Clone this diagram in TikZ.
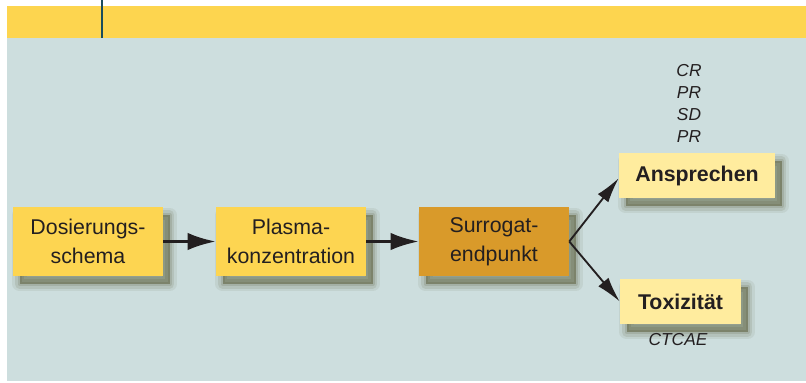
\documentclass[tikz,border=0pt]{standalone}
\usepackage{fontspec}
\setmainfont{Liberation Sans}
\usetikzlibrary{arrows.meta,shadows}

\definecolor{bandyellow}{HTML}{FDD54F}
\definecolor{panelgray}{HTML}{CDDEDE}
\definecolor{boxyellow}{HTML}{FDD551}
\definecolor{boxlight}{HTML}{FFEC9E}
\definecolor{boxdark}{HTML}{D99A2A}
\definecolor{tabline}{HTML}{1A4D5C}
\definecolor{shadowcol}{HTML}{3E3E12}
\definecolor{ink}{HTML}{231F20}

\begin{document}
\begin{tikzpicture}[x=0.75pt,y=-0.75pt,
  every node/.style={text=ink},
  soft shadow/.style={
    general shadow={fill=shadowcol,draw=shadowcol,line width=11pt,line join=round,opacity=0.07,shadow xshift=5pt,shadow yshift=-6pt},
    general shadow={fill=shadowcol,draw=shadowcol,line width=7pt,line join=round,opacity=0.1,shadow xshift=5pt,shadow yshift=-6pt},
    general shadow={fill=shadowcol,draw=shadowcol,line width=3pt,line join=round,opacity=0.13,shadow xshift=5pt,shadow yshift=-6pt},
    general shadow={fill=shadowcol,opacity=0.15,shadow xshift=5pt,shadow yshift=-6pt}},
  stage/.style={rectangle,fill=boxyellow,minimum width=112.5pt,minimum height=51.75pt,
    align=center,font=\fontsize{16}{21.75}\selectfont,soft shadow},
  result/.style={rectangle,fill=boxlight,minimum height=33.75pt,
    font=\fontsize{16}{19}\selectfont\bfseries,soft shadow},
  crit/.style={font=\fontsize{13}{16.5}\selectfont\itshape,inner sep=0pt},
  flow/.style={-{Latex[length=21pt,width=13pt]},line width=2.2pt,ink},
  branch/.style={-{Latex[length=19pt,width=10pt]},line width=1.4pt,ink}]
\useasboundingbox (0,0) rectangle (806,382);
% background
\fill[bandyellow] (7,6) rectangle (806,38);
\fill[panelgray] (7,38) rectangle (806,381);
\draw[tabline,line width=1.5pt] (102,0) -- (102,38);

\node[stage] (dosis) at (88,241.5) {Dosierungs-\\schema};
\node[stage] (plasma) at (291,241.5) {Plasma-\\konzentration};
\node[stage,fill=boxdark] (surrogat) at (494,241.5) {Surrogat-\\endpunkt};
\node[result,minimum width=117pt] (ansprechen) at (697,175.5) {Ansprechen};
\node[result,minimum width=90.75pt] (toxizitaet) at (680.5,301.5) {Toxizität};

\node[crit] (cr) at (689,71) {CR};
\node[crit] (pr) at (689,93) {PR};
\node[crit] (sd) at (689,115) {SD};
\node[crit] (pd) at (689,137) {PR};
\node[crit] (ctcae) at (678,340) {CTCAE};

\draw[flow] (dosis) -- (plasma);
\draw[flow] (plasma) -- (surrogat);
\draw[branch] (surrogat.east) -- ([yshift=-2pt]ansprechen.west);
\draw[branch] (surrogat.east) -- (toxizitaet.west);
\end{tikzpicture}
\end{document}
